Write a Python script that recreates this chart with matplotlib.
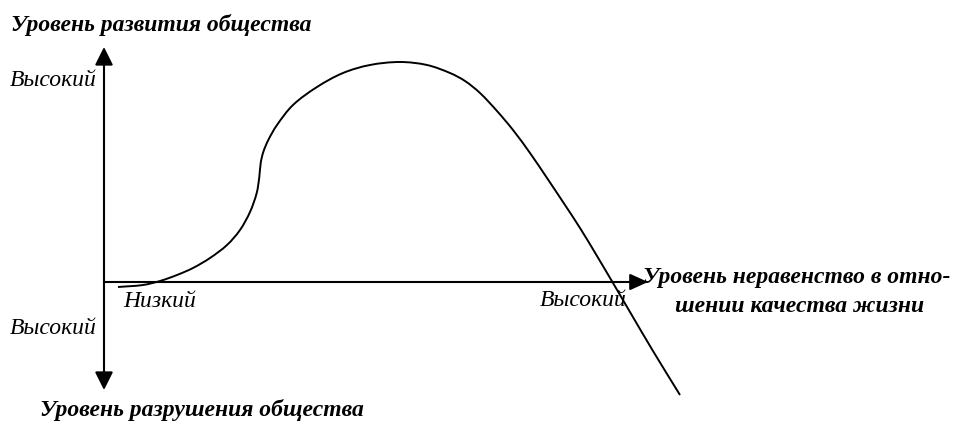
import numpy as np
import matplotlib
matplotlib.use("Agg")
import matplotlib.pyplot as plt
from matplotlib.path import Path
from matplotlib.patches import PathPatch

# Curve: inequality (x) vs development level (y), origin at axes crossing
inequality = [14, 39, 56, 73, 89, 106, 123, 136, 146, 152.7, 155.3, 156.7, 159.3, 164.3,
              173, 189, 213, 239, 266, 296, 323, 346, 361, 376, 393, 409, 426, 443, 459,
              476, 493, 509, 526, 549, 576]
development = [-5, -3, 1, 7, 14, 24, 37, 52, 70, 89, 105, 119, 130, 142,
               157, 177, 195, 209, 217, 220, 217, 209, 201, 189, 171, 152, 129, 104, 80,
               54, 26, -1, -30, -69, -113]

title_top = "Уровень развития общества"
title_bottom = "Уровень разрушения общества"
x_title = "Уровень неравенство в отно-"
x_title2 = "шении качества жизни"
high = "Высокий"
low = "Низкий"

fig = plt.figure(figsize=(9.56, 4.23), dpi=100)
ax = fig.add_axes([0, 0, 1, 1])
ax.set_xlim(-104, 852)
ax.set_ylim(-141, 282)
ax.axis("off")

FONT = "Liberation Serif"
FS = 17

# Axes arrows
ax.annotate("", xy=(0, 235), xytext=(0, -108),
            arrowprops=dict(arrowstyle="<|-|>,head_length=1.1,head_width=0.55",
                            lw=1.5, color="black", shrinkA=0, shrinkB=0))
ax.annotate("", xy=(544, 0), xytext=(0, 0),
            arrowprops=dict(arrowstyle="-|>,head_length=1.1,head_width=0.5",
                            lw=1.5, color="black", shrinkA=0, shrinkB=0))

# Smooth curve through the read points (chord-length Catmull-Rom as cubic Bezier)
P = np.column_stack([inequality, development]).astype(float)
n = len(P)
d = np.linalg.norm(np.diff(P, axis=0), axis=1)
T = np.zeros_like(P)
T[0] = (P[1] - P[0]) / d[0]
T[-1] = (P[-1] - P[-2]) / d[-1]
for i in range(1, n - 1):
    T[i] = (P[i + 1] - P[i - 1]) / (d[i - 1] + d[i])
verts = [tuple(P[0])]
codes = [Path.MOVETO]
for i in range(n - 1):
    c1 = P[i] + T[i] * d[i] / 3.0
    c2 = P[i + 1] - T[i + 1] * d[i] / 3.0
    verts += [tuple(c1), tuple(c2), tuple(P[i + 1])]
    codes += [Path.CURVE4] * 3
ax.add_patch(PathPatch(Path(verts, codes), facecolor="none", edgecolor="black", lw=1.4))

bi = dict(fontfamily=FONT, fontsize=FS, fontweight="bold", fontstyle="italic",
          va="baseline")
it = dict(fontfamily=FONT, fontsize=FS, fontstyle="italic", va="baseline")

ax.text(-93, 251, title_top, ha="left", **bi)
ax.text(-64, -134, title_bottom, ha="left", **bi)
ax.text(-94, 196, high, ha="left", **it)
ax.text(-94, -52, high, ha="left", **it)
ax.text(19, -25, low, ha="left", **it)
ax.text(436, -24, high, ha="left", **it)
ax.text(539, -1, x_title, ha="left", **bi)
ax.text(571, -30, x_title2, ha="left", **bi)

fig.savefig("out.png", dpi=100, facecolor="white")
